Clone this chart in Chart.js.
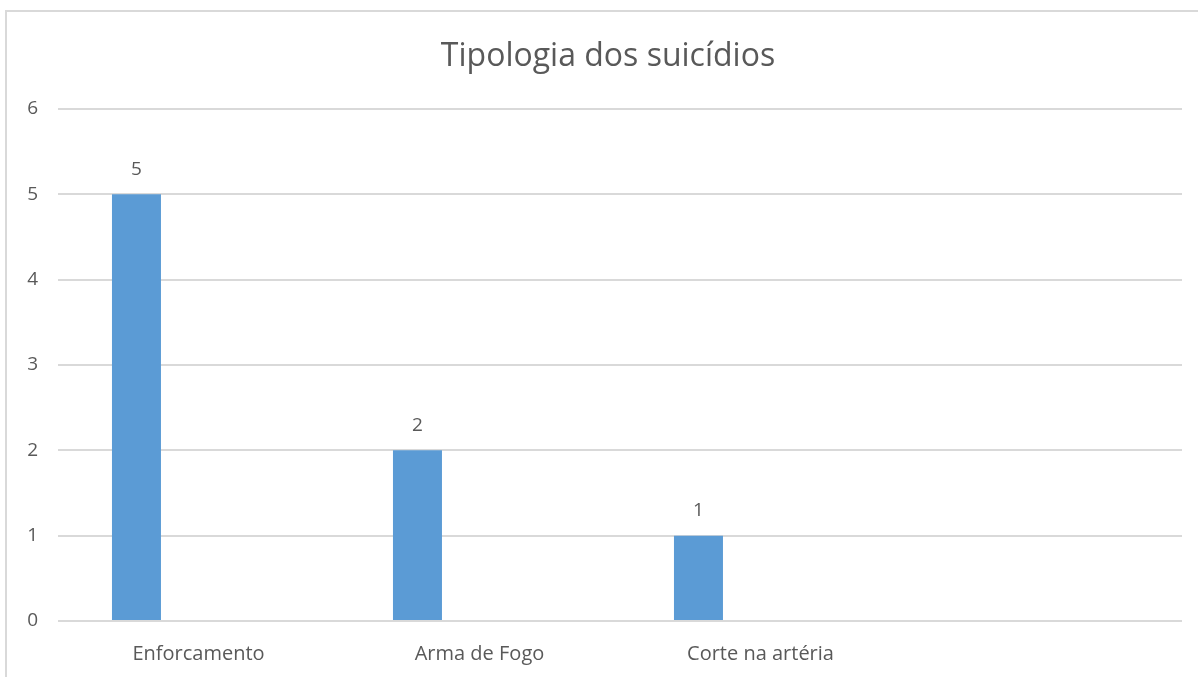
<!DOCTYPE html>
<html>
<head>
<meta charset="utf-8">
<script src="https://cdn.jsdelivr.net/npm/chart.js@4"></script>
<style>
  html, body { margin: 0; padding: 0; background: #fff; overflow: hidden; }
  #frame {
    position: absolute; left: 5px; top: 10px; width: 1400px; height: 900px;
    border: 2px solid #d9d9d9;
  }
  #wrap { position: absolute; left: 0; top: 0; width: 1198px; height: 677px; }
</style>
</head>
<body>
<div id="frame"></div>
<div id="wrap"><canvas id="barChart"></canvas></div>
<script>
const chartTitle = 'Tipologia dos suicídios';
const categories = ['Enforcamento', 'Arma de Fogo', 'Corte na artéria', ''];
const seriesValues = [5, 2, 1, null];
const emptySeries = [null, null, null, null];
const yTicks = [0, 1, 2, 3, 4, 5, 6];

const textColor = '#595959';
const fontFamily = "'Open Sans', 'Liberation Sans', sans-serif";

// draws the value above each bar
const valueLabels = {
    id: 'valueLabels',
    afterDatasetsDraw(chart) {
        const ctx = chart.ctx;
        const meta = chart.getDatasetMeta(0);
        ctx.save();
        ctx.fillStyle = textColor;
        ctx.font = '19px ' + fontFamily;
        ctx.textAlign = 'center';
        ctx.textBaseline = 'middle';
        meta.data.forEach((bar, i) => {
            const v = chart.data.datasets[0].data[i];
            if (v == null) return;
            ctx.fillText(String(v), bar.x, bar.y - 25);
        });
        ctx.restore();
    }
};

// title, centred a bit right of the plot like the excel chart
const chartHeading = {
    id: 'chartHeading',
    afterDraw(chart) {
        const ctx = chart.ctx;
        ctx.save();
        ctx.fillStyle = textColor;
        ctx.font = '32px ' + fontFamily;
        ctx.textAlign = 'center';
        ctx.textBaseline = 'middle';
        ctx.fillText(chartTitle, (chart.width + 34 - 16) / 2, 57);
        ctx.restore();
    }
};

const ctx = document.getElementById('barChart');

new Chart(ctx, {
    type: 'bar',
    data: {
        labels: categories,
        datasets: [{
            data: seriesValues,
            backgroundColor: '#5b9bd5',
            categoryPercentage: 0.883,
            barPercentage: 0.395
        }, {
            data: emptySeries,
            backgroundColor: '#ed7d31',
            categoryPercentage: 0.883,
            barPercentage: 0.395
        }]
    },
    options: {
        responsive: true,
        maintainAspectRatio: false,
        animation: false,
        layout: {
            padding: { left: 0, right: 16, top: 109, bottom: 0 }
        },
        plugins: {
            legend: { display: false },
            tooltip: { enabled: false },
            title: { display: false }
        },
        scales: {
            x: {
                grid: { display: false, drawTicks: false },
                border: { display: false },
                ticks: {
                    color: textColor,
                    padding: 21,
                    maxRotation: 0,
                    font: { family: fontFamily, size: 20 }
                },
                afterFit(scale) { scale.height = 56; }
            },
            y: {
                min: 0,
                max: 6,
                afterBuildTicks(scale) {
                    scale.ticks = yTicks.map(v => ({ value: v }));
                },
                grid: { color: '#d9d9d9', lineWidth: 2, drawTicks: false },
                border: { display: false },
                ticks: {
                    color: textColor,
                    padding: 20,
                    font: { family: fontFamily, size: 19 }
                },
                afterFit(scale) { scale.width = 58; }
            }
        }
    },
    plugins: [valueLabels, chartHeading]
});
</script>
</body>
</html>
